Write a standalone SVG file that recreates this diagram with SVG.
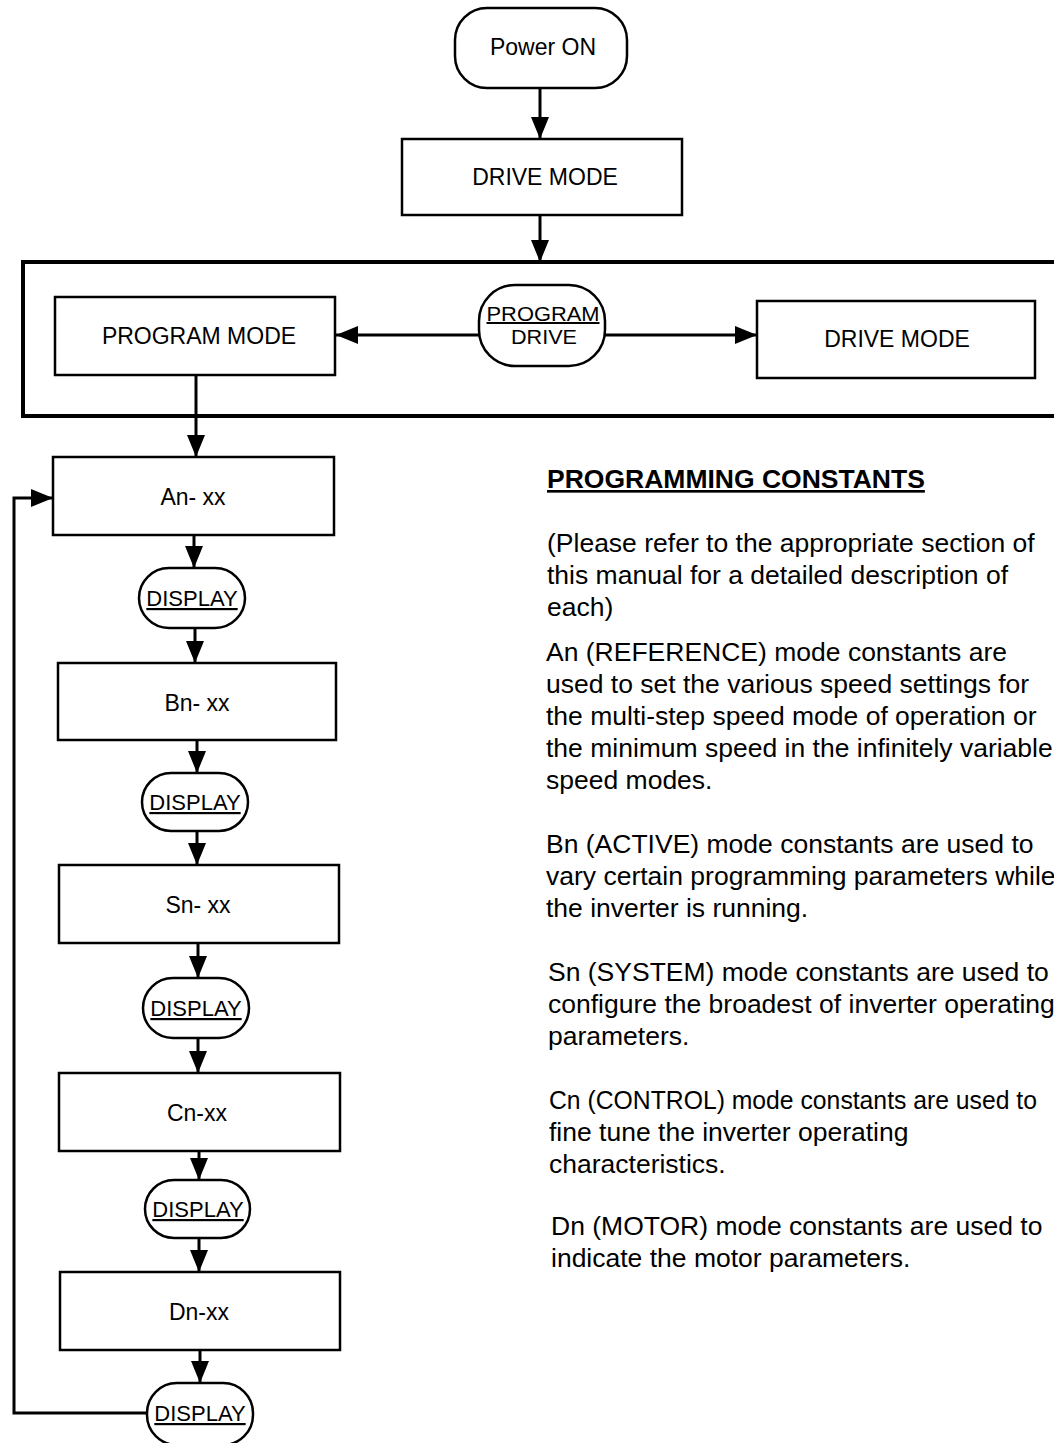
<svg xmlns="http://www.w3.org/2000/svg" width="1054" height="1443" viewBox="0 0 1054 1443">
<style>
.box{fill:#fff;stroke:#000;stroke-width:2.5}
.frame{fill:none;stroke:#000;stroke-width:4}
.c{fill:none;stroke:#000;stroke-width:3}
.t{font-family:"Liberation Sans",Arial,sans-serif;font-size:23px;fill:#000;text-anchor:middle;dominant-baseline:central}
.p{font-family:"Liberation Sans",Arial,sans-serif;font-size:20px;fill:#000;text-anchor:middle}
.d{font-family:"Liberation Sans",Arial,sans-serif;font-size:22px;fill:#000;text-anchor:middle;text-decoration:underline}
.b{font-family:"Liberation Sans",Arial,sans-serif;font-size:26.5px;fill:#000}
.h{font-family:"Liberation Sans",Arial,sans-serif;font-size:26.5px;font-weight:bold;fill:#000;text-decoration:underline}
</style>
<defs>
<marker id="ah" markerUnits="userSpaceOnUse" markerWidth="22" markerHeight="22" viewBox="0 0 22 22" refX="22" refY="11" orient="auto">
<path d="M0,2 L22,11 L0,20 Z" fill="#000"/>
</marker>
</defs>
<rect class="frame" x="23" y="262" width="1040" height="154"/>
<g id="connectors">
<line class="c" x1="540" y1="88" x2="540" y2="139" marker-end="url(#ah)"/>
<line class="c" x1="540" y1="215" x2="540" y2="262" marker-end="url(#ah)"/>
<line class="c" x1="479" y1="335" x2="336" y2="335" marker-end="url(#ah)"/>
<line class="c" x1="605" y1="335" x2="757" y2="335" marker-end="url(#ah)"/>
<line class="c" x1="196" y1="375" x2="196" y2="457" marker-end="url(#ah)"/>
<line class="c" x1="194" y1="535" x2="194" y2="568" marker-end="url(#ah)"/>
<line class="c" x1="195" y1="628" x2="195" y2="663" marker-end="url(#ah)"/>
<line class="c" x1="197" y1="740" x2="197" y2="773" marker-end="url(#ah)"/>
<line class="c" x1="197" y1="831" x2="197" y2="865" marker-end="url(#ah)"/>
<line class="c" x1="198" y1="943" x2="198" y2="978" marker-end="url(#ah)"/>
<line class="c" x1="198" y1="1038" x2="198" y2="1073" marker-end="url(#ah)"/>
<line class="c" x1="199" y1="1151" x2="199" y2="1180" marker-end="url(#ah)"/>
<line class="c" x1="199" y1="1238" x2="199" y2="1272" marker-end="url(#ah)"/>
<line class="c" x1="200" y1="1350" x2="200" y2="1383" marker-end="url(#ah)"/>
<polyline class="c" points="147,1413 14,1413 14,498 53,498" marker-end="url(#ah)"/>
</g>
<g id="power-on"><rect class="box" x="455" y="8" width="172" height="80" rx="32"/><text class="t" x="543" y="47">Power ON</text></g>
<g id="drive-mode-top"><rect class="box" x="402" y="139" width="280" height="76"/><text class="t" x="545" y="177">DRIVE MODE</text></g>
<g id="program-mode"><rect class="box" x="55" y="297" width="280" height="78"/><text class="t" x="199" y="336">PROGRAM MODE</text></g>
<g id="program-drive"><rect class="box" x="479" y="285" width="126" height="81" rx="36"/>
<text class="p" x="543" y="321" textLength="113" lengthAdjust="spacingAndGlyphs" text-decoration="underline">PROGRAM</text>
<text class="p" x="544" y="344" textLength="66" lengthAdjust="spacingAndGlyphs">DRIVE</text></g>
<g id="drive-mode-right"><rect class="box" x="757" y="301" width="278" height="77"/><text class="t" x="897" y="339">DRIVE MODE</text></g>
<g id="an"><rect class="box" x="53" y="457" width="281" height="78"/><text class="t" x="193" y="497">An- xx</text></g>
<g id="display1"><rect class="box" x="139" y="568" width="106" height="60" rx="30"/><text class="d" x="192" y="606">DISPLAY</text></g>
<g id="bn"><rect class="box" x="58" y="663" width="278" height="77"/><text class="t" x="197" y="703">Bn- xx</text></g>
<g id="display2"><rect class="box" x="142" y="773" width="106" height="58" rx="29"/><text class="d" x="195" y="810">DISPLAY</text></g>
<g id="sn"><rect class="box" x="59" y="865" width="280" height="78"/><text class="t" x="198" y="905">Sn- xx</text></g>
<g id="display3"><rect class="box" x="143" y="978" width="106" height="60" rx="30"/><text class="d" x="196" y="1016">DISPLAY</text></g>
<g id="cn"><rect class="box" x="59" y="1073" width="281" height="78"/><text class="t" x="197" y="1113">Cn-xx</text></g>
<g id="display4"><rect class="box" x="145" y="1180" width="105" height="58" rx="29"/><text class="d" x="198" y="1217">DISPLAY</text></g>
<g id="dn"><rect class="box" x="60" y="1272" width="280" height="78"/><text class="t" x="199" y="1312">Dn-xx</text></g>
<g id="display5"><rect class="box" x="147" y="1383" width="106" height="62" rx="30"/><text class="d" x="200" y="1421">DISPLAY</text></g>
<g id="constants-text">
<text class="h" x="547" y="488">PROGRAMMING CONSTANTS</text>
<text class="b" x="547" y="552">(Please refer to the appropriate section of</text>
<text class="b" x="547" y="584">this manual for a detailed description of</text>
<text class="b" x="547" y="616">each)</text>
<text class="b" x="546" y="661">An (REFERENCE) mode constants are</text>
<text class="b" x="546" y="693">used to set the various speed settings for</text>
<text class="b" x="546" y="725">the multi-step speed mode of operation or</text>
<text class="b" x="546" y="757">the minimum speed in the infinitely variable</text>
<text class="b" x="546" y="789">speed modes.</text>
<text class="b" x="546" y="853">Bn (ACTIVE) mode constants are used to</text>
<text class="b" x="546" y="885">vary certain programming parameters while</text>
<text class="b" x="546" y="917">the inverter is running.</text>
<text class="b" x="548" y="981">Sn (SYSTEM) mode constants are used to</text>
<text class="b" x="548" y="1013">configure the broadest of inverter operating</text>
<text class="b" x="548" y="1045">parameters.</text>
<text class="b" x="549" y="1109" textLength="488" lengthAdjust="spacingAndGlyphs">Cn (CONTROL) mode constants are used to</text>
<text class="b" x="549" y="1141">fine tune the inverter operating</text>
<text class="b" x="549" y="1173">characteristics.</text>
<text class="b" x="551" y="1235">Dn (MOTOR) mode constants are used to</text>
<text class="b" x="551" y="1267">indicate the motor parameters.</text>
</g>
</svg>
